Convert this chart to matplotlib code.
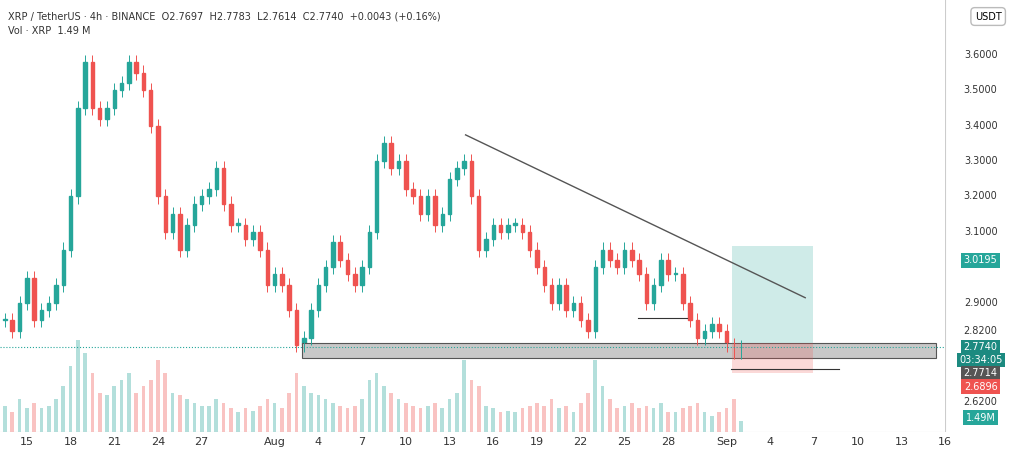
import matplotlib.pyplot as plt
from matplotlib.patches import Rectangle

# half-day closes, starting Jul 13.5 (day index -1.5 relative to Jul 15)
closes = [2.85, 2.82, 2.90, 2.97,
          2.85, 2.88, 2.90, 2.95, 3.05, 3.20, 3.45, 3.58, 3.45, 3.42, 3.45, 3.50,
          3.52, 3.58, 3.55, 3.50, 3.40, 3.20, 3.10, 3.15, 3.05, 3.12, 3.18, 3.20,
          3.22, 3.28, 3.18, 3.12, 3.12, 3.08, 3.10, 3.05, 2.95, 2.98, 2.95, 2.88,
          2.78, 2.80, 2.88, 2.95, 3.00, 3.07, 3.02, 2.98, 2.95, 3.00, 3.10, 3.30,
          3.35, 3.28, 3.30, 3.22, 3.20, 3.15, 3.20, 3.12, 3.15, 3.25, 3.28, 3.30,
          3.20, 3.05, 3.08, 3.12, 3.10, 3.12, 3.12, 3.10, 3.05, 3.00, 2.95, 2.90,
          2.95, 2.88, 2.90, 2.85, 2.82, 3.00, 3.05, 3.02, 3.00, 3.05, 3.02, 2.98,
          2.90, 2.95, 3.02, 2.98, 2.98, 2.90, 2.85, 2.80, 2.82, 2.84, 2.82, 2.78,
          2.76, 2.774]
volumes = [20, 15, 25, 18,
           22, 18, 20, 25, 35, 50, 70, 60, 45, 30, 28, 35,
           40, 45, 30, 35, 40, 55, 45, 30, 28, 25, 22, 20,
           20, 25, 22, 18, 15, 18, 16, 20, 25, 22, 18, 30,
           45, 35, 30, 28, 25, 22, 20, 18, 20, 25, 40, 45,
           35, 30, 25, 22, 20, 18, 20, 22, 18, 25, 30, 55,
           40, 35, 20, 18, 15, 16, 15, 18, 20, 22, 20, 25,
           18, 20, 15, 22, 30, 55, 35, 25, 18, 20, 22, 18,
           20, 18, 22, 15, 15, 18, 20, 22, 15, 12, 15, 18,
           25, 8]
start_day = -1.5
x_days = [0, 3, 6, 9, 12, 17, 20, 23, 26, 29, 32, 35, 38, 41, 44, 48, 51, 54, 57, 60, 63]
x_labels = ["15", "18", "21", "24", "27", "Aug", "4", "7", "10", "13", "16", "19",
            "22", "25", "28", "Sep", "4", "7", "10", "13", "16"]
price_ticks = [3.6, 3.5, 3.4, 3.3, 3.2, 3.1, 2.9, 2.82, 2.62]

green, red = "#26a69a", "#ef5350"
fig = plt.figure(figsize=(10.24, 4.72), dpi=100)
ax = fig.add_axes([0, 0.085, 0.923, 0.915])
vax = ax.twinx()
vax.set_zorder(0); ax.set_zorder(1); ax.patch.set_visible(False)

days = [start_day + 0.5 * i for i in range(len(closes))]
opens = [closes[0]] + closes[:-1]
for d, o, c, v in zip(days, opens, closes, volumes):
    col = green if c >= o else red
    ax.vlines(d, min(o, c) - 0.02, max(o, c) + 0.02, color=col, lw=0.7)
    ax.add_patch(Rectangle((d - 0.12, min(o, c)), 0.24, max(abs(c - o), 0.004), color=col))
    vax.bar(d, v, width=0.25, color=col, alpha=0.35)
vax.set_ylim(0, 330)
vax.axis("off")

ax.set_xlim(-1.84, 62.4)
ax.set_ylim(2.535, 3.755)
# zone and drawings
ax.add_patch(Rectangle((18.9, 2.745), 62.4 - 18.9, 0.041, facecolor="#c8c8c8", edgecolor="#555", lw=0.8))
ax.axhline(2.774, color=green, ls=":", lw=0.8)
ax.plot([30.1, 53.4], [3.374, 2.914], color="#555", lw=1)
ax.add_patch(Rectangle((48.4, 2.786), 5.5, 0.274, color=green, alpha=0.22, lw=0))
ax.add_patch(Rectangle((48.4, 2.70), 5.5, 0.086, color=red, alpha=0.22, lw=0))
ax.plot([48.3, 55.7], [2.713, 2.713], color="#333", lw=0.8)
ax.plot([41.9, 45.3], [2.857, 2.857], color="#333", lw=0.8)

ax.set_xticks(x_days)
ax.set_xticklabels(x_labels, fontsize=8, color="#333")
ax.tick_params(axis="x", length=0)
ax.set_yticks([])
for s in ax.spines.values():
    s.set_visible(False)
ax.axhline(2.535, color="#ccc", lw=0.8)

rax = fig.add_axes([0.923, 0.085, 0.077, 0.915])
rax.set_ylim(2.535, 3.755); rax.set_xlim(0, 1); rax.axis("off")
rax.axvline(0, color="#ccc", lw=0.8)
for p in price_ticks:
    rax.text(0.45, p, f"{p:.4f}", fontsize=7, va="center", ha="center", color="#333")
for p, txt, col in [(3.0195, "3.0195", green), (2.774, "2.7740", "#1c8a80"),
                    (2.738, "03:34:05", "#1c8a80"),
                    (2.7, "2.7714", "#555"), (2.662, "2.6896", red)]:
    rax.text(0.45, p, txt, fontsize=7, va="center", ha="center", color="white",
             bbox=dict(boxstyle="square,pad=0.25", fc=col, ec="none"))
rax.text(0.45, 2.575, "1.49M", fontsize=7, va="center", ha="center", color="white",
         bbox=dict(boxstyle="square,pad=0.25", fc=green, ec="none"))
fig.text(0.965, 0.965, "USDT", fontsize=7, ha="center", va="center",
         bbox=dict(boxstyle="round,pad=0.4", fc="white", ec="#bbb"))

fig.text(0.008, 0.965, "XRP / TetherUS · 4h · BINANCE  O2.7697  H2.7783  L2.7614  C2.7740  +0.0043 (+0.16%)",
         fontsize=7, color="#333", va="center")
fig.text(0.008, 0.935, "Vol · XRP  1.49 M", fontsize=7, color="#333", va="center")
fig.savefig("out.png", dpi=100)
